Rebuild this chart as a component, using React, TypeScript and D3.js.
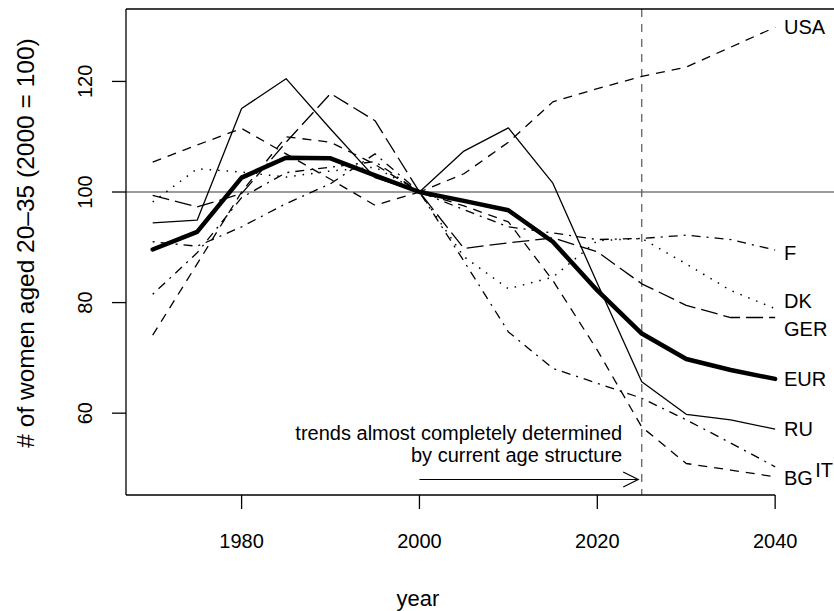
import React from 'react';
import * as d3 from 'd3';

// projection years, index 2000 = 100
const years = [1970, 1975, 1980, 1985, 1990, 1995, 2000, 2005, 2010, 2015, 2020, 2025, 2030, 2035, 2040];

const EUR = [89.6, 92.8, 102.6, 106.2, 106.1, 103.0, 100, 98.4, 96.7, 91.0, 82.2, 74.4, 69.8, 67.8, 66.2];
const RU = [94.4, 94.9, 115.1, 120.5, 111.4, 102.6, 100, 107.4, 111.6, 101.6, 83.5, 65.7, 59.8, 58.8, 57.1];
const USA = [74.1, 87.0, 100.0, 110.0, 109.0, 105.0, 100, 103.3, 109.0, 116.3, 118.7, 120.9, 122.6, 126.2, 129.8];
const BG = [105.4, 108.5, 111.5, 106.9, 102.3, 97.6, 100, 97.5, 94.6, 84.0, 71.4, 57.5, 50.9, 49.7, 48.5];
const GER = [99.4, 97.3, 99.7, 109.0, 117.8, 112.9, 100, 89.8, 90.8, 91.7, 89.2, 83.4, 79.5, 77.3, 77.3];
const F = [81.5, 89.0, 99.0, 103.5, 104.5, 105.5, 100, 96.8, 93.7, 92.6, 91.4, 91.6, 92.2, 91.4, 89.5];
const IT = [91.0, 90.2, 93.7, 97.9, 101.5, 106.9, 100, 87.5, 74.7, 68.1, 65.4, 62.7, 58.8, 54.6, 50.3];
const DK = [98.2, 104.2, 103.6, 102.7, 103.8, 104.5, 100, 88.3, 82.5, 84.6, 91.2, 91.6, 87.0, 82.2, 78.9];

// end labels (where they sit, in data units)
const labelNames = ['USA', 'F', 'DK', 'GER', 'EUR', 'RU', 'BG', 'IT'];
const labelYear = [2041, 2041, 2041, 2041, 2041, 2041, 2041, 2044.5];
const labelValue = [129.8, 89.0, 80.2, 75.2, 66.1, 57.1, 48.2, 49.7];

const xTicks = [1980, 2000, 2020, 2040];
const yTicks = [60, 80, 100, 120];

const W = 834;
const H = 611;
const left = 126;
const top = 9;
const bottom = 495;

const font = '"Liberation Sans", Arial, Helvetica, sans-serif';

const series = [
    { name: 'USA', values: USA, width: 1.3, dash: '9,7' },
    { name: 'BG', values: BG, width: 1.3, dash: '9,7' },
    { name: 'GER', values: GER, width: 1.3, dash: '17,6' },
    { name: 'F', values: F, width: 1.3, dash: '2,6,9,6' },
    { name: 'IT', values: IT, width: 1.3, dash: '2,6,9,6' },
    { name: 'DK', values: DK, width: 1.5, dash: '1.5,7' },
    { name: 'RU', values: RU, width: 1.3, dash: null },
    { name: 'EUR', values: EUR, width: 4.5, dash: null },
];

const App = () => {
    const x = d3.scaleLinear().domain([1967, 2048]).range([left, left + 81 * 8.8925]);
    const y = d3.scaleLinear().domain([45.2, 133.1]).range([bottom, top]);

    const line = d3.line<number>()
        .x((d, i) => x(years[i]))
        .y(d => y(d));

    return (
        <svg width={W} height={H} style={{ position: 'absolute', left: 0, top: 0, background: '#fff' }}
            fontFamily={font}>
            <rect x={0} y={0} width={W} height={H} fill="#fff" />

            {/* reference lines */}
            <line x1={left} x2={W} y1={y(100)} y2={y(100)} stroke="#7a7a7a" strokeWidth={1.5} />
            <line x1={x(2025)} x2={x(2025)} y1={top} y2={bottom} stroke="#555" strokeWidth={1.2}
                strokeDasharray="8,7" />

            {series.map(s => (
                <path key={s.name} d={line(s.values) || ''} fill="none" stroke="#000"
                    strokeWidth={s.width} strokeDasharray={s.dash || undefined}
                    strokeLinejoin="round" strokeLinecap={s.name === 'EUR' ? 'round' : 'butt'} />
            ))}

            {labelNames.map((n, i) => (
                <text key={n} x={x(labelYear[i])} y={y(labelValue[i])} dy="0.35em" fontSize={20}>{n}</text>
            ))}

            {/* annotation */}
            <text x={x(2022.8)} y={y(55.1)} textAnchor="end" fontSize={20}>trends almost completely determined</text>
            <text x={x(2022.8)} y={y(51.1)} textAnchor="end" fontSize={20}>by current age structure</text>
            <g stroke="#000" strokeWidth={1.2} fill="none">
                <line x1={x(2000)} x2={x(2024.6)} y1={y(48)} y2={y(48)} />
                <polyline points={`${x(2024.6) - 15},${y(48) - 7.5} ${x(2024.6)},${y(48)} ${x(2024.6) - 15},${y(48) + 7.5}`} />
            </g>

            {/* frame */}
            <g stroke="#000" strokeWidth={1.3} fill="none">
                <line x1={left} x2={left} y1={top} y2={bottom} />
                <line x1={left} x2={W} y1={top} y2={top} />
                <line x1={left} x2={x(2040)} y1={bottom} y2={bottom} />
            </g>

            {/* x axis */}
            {xTicks.map(t => (
                <g key={t}>
                    <line x1={x(t)} x2={x(t)} y1={bottom} y2={bottom + 14} stroke="#000" strokeWidth={1.3} />
                    <text x={x(t)} y={548} textAnchor="middle" fontSize={20}>{t}</text>
                </g>
            ))}
            <text x={418} y={606} textAnchor="middle" fontSize={22}>year</text>

            {/* y axis */}
            {yTicks.map(t => (
                <g key={t}>
                    <line x1={left - 14} x2={left} y1={y(t)} y2={y(t)} stroke="#000" strokeWidth={1.3} />
                    <text transform={`translate(92,${y(t)}) rotate(-90)`} textAnchor="middle" fontSize={20}>{t}</text>
                </g>
            ))}
            <text transform={`translate(34,243) rotate(-90)`} textAnchor="middle" fontSize={24.5}>
                # of women aged 20–35 (2000 = 100)
            </text>
        </svg>
    );
};

export default App;
